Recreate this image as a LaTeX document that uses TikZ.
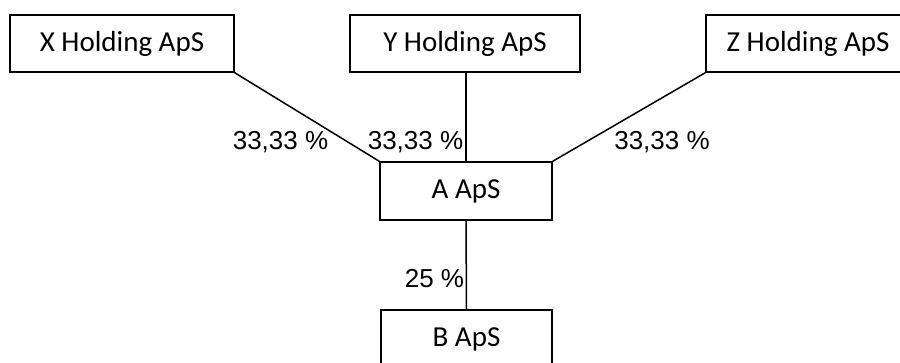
\documentclass[tikz,border=0pt]{standalone}
\usepackage{fontspec}
\setmainfont{Carlito}
\newfontfamily\pctfont{Liberation Sans}
\begin{document}
\begin{tikzpicture}[x=1pt,y=-1pt,
  company/.style={draw, line width=1.5pt, minimum height=57pt, inner sep=0pt,
    font=\fontsize{29}{33}\selectfont},
  share/.style={inner sep=0pt, font=\pctfont\fontsize{26}{29}\selectfont},
  link/.style={line width=1.5pt}]
\useasboundingbox (0,0) rectangle (900,362);
\clip (0,0) rectangle (900,362);
% owners
\node[company, minimum width=224pt] (x) at (122,43.5) {X Holding ApS};
\node[company, minimum width=230pt] (y) at (465,43.5) {Y Holding ApS};
\node[company, minimum width=224pt] (z) at (818,43.5) {\hspace*{-20pt}Z Holding ApS};
% subsidiaries
\node[company, minimum width=172pt, minimum height=58pt] (a) at (466,191) {A ApS};
\node[company, minimum width=171pt, minimum height=58pt] (b) at (466.5,339) {B ApS};
% ownership lines
\draw[link] (x.south east) -- (a.north west);
\draw[link] (y.south -| a.north) -- (a.north);
\draw[link] (z.south west) -- (a.north east);
\draw[link] (a.south) -- (b.north);
% shares
\node[share] (px) at (280.5,142) {33,33 \%};
\node[share] (py) at (415.5,142) {33,33 \%};
\node[share] (pz) at (662,142) {33,33 \%};
\node[share] (pb) at (434.5,279) {25 \%};
\end{tikzpicture}
\end{document}
